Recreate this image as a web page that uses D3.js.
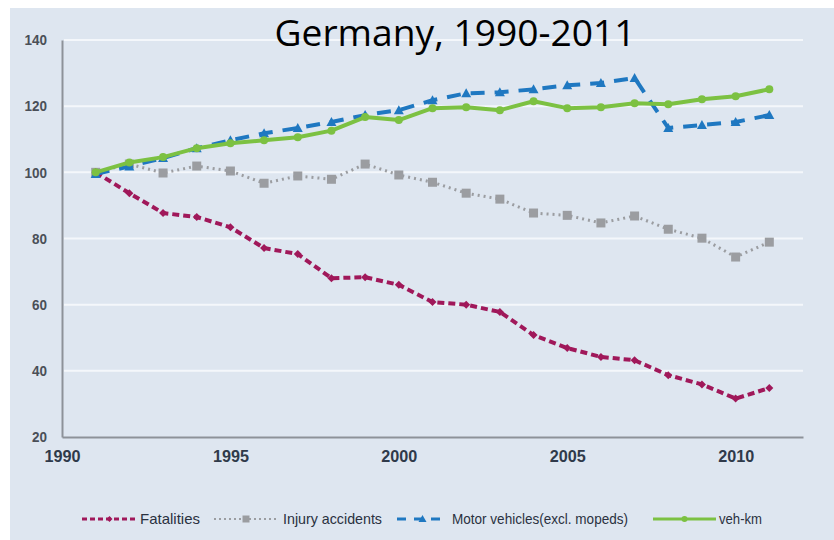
<!DOCTYPE html>
<html><head><meta charset="utf-8">
<script src="https://cdn.jsdelivr.net/npm/d3@7/dist/d3.min.js"></script>
<style>
body{margin:0;background:#fff;}
svg{display:block;}
.tick text{font-family:"Liberation Sans","DejaVu Sans",sans-serif;}
</style></head>
<body>
<svg id="chart" width="834" height="540"></svg>
<script>
const years = d3.range(1991, 2012);
const fatalities = [100, 93.7, 87.7, 86.5, 83.4, 77.1, 75.3, 68, 68.3, 66, 60.8, 60, 57.8, 50.8, 46.9, 44.2, 43.2, 38.7, 35.9, 31.6, 34.8];
const injuryAccidents = [100, 102.5, 99.8, 101.9, 100.4, 96.7, 98.9, 97.9, 102.5, 99.2, 97, 93.7, 91.9, 87.7, 87, 84.7, 86.8, 82.8, 80.1, 74.4, 78.9];
const motorVehicles = [99.5, 101.8, 104.3, 107.3, 109.7, 111.8, 113.4, 115.2, 117.3, 118.8, 121.8, 123.9, 124.2, 125.1, 126.3, 127, 128.5, 113.4, 114.3, 115.2, 117.3];
const vehKm = [100, 103, 104.6, 107.3, 108.8, 109.7, 110.6, 112.6, 116.7, 115.8, 119.4, 119.7, 118.8, 121.5, 119.4, 119.7, 120.9, 120.6, 122.1, 123, 125.1];
const xTicks = [1990, 1995, 2000, 2005, 2010];
const yTicks = [20, 40, 60, 80, 100, 120, 140];
const title = "Germany, 1990-2011";

const series = [
  {name: "Fatalities", values: fatalities, color: "#a0185a", dash: "7,4", width: 4, marker: "diamond"},
  {name: "Injury accidents", values: injuryAccidents, color: "#9b9da1", dash: "2,4", width: 3, marker: "square"},
  {name: "Motor vehicles(excl. mopeds)", values: motorVehicles, color: "#1f78c1", dash: "14,10", width: 4, marker: "triangle"},
  {name: "veh-km", values: vehKm, color: "#7cc142", dash: null, width: 4, marker: "circle"}
];

const svg = d3.select("#chart");
svg.append("rect").attr("x", 10).attr("y", 8).attr("width", 824).attr("height", 532).attr("fill", "#dee6f0");

const x = d3.scaleLinear().domain([1990, 2012]).range([62, 803]);
const y = d3.scaleLinear().domain([20, 140]).range([437, 40]);

// gridlines
svg.append("g").selectAll("line").data(yTicks.filter(v => v > 20)).join("line")
  .attr("x1", 64).attr("x2", 803).attr("y1", d => y(d)).attr("y2", d => y(d))
  .attr("stroke", "#f4f7fb").attr("stroke-width", 2);

// axes
const yAxis = svg.append("g").attr("transform", "translate(62,0)")
  .call(d3.axisLeft(y).tickValues(yTicks).tickSize(0).tickPadding(15));
yAxis.select(".domain").attr("stroke", "#8d9299").attr("stroke-width", 2);
yAxis.selectAll("text").attr("font-size", 15).attr("fill", "#4a4f57").attr("font-weight", "bold")
  .attr("textLength", d => String(d).length * 7.5).attr("lengthAdjust", "spacingAndGlyphs");

const xAxis = svg.append("g").attr("transform", "translate(0,437)")
  .call(d3.axisBottom(x).tickValues(xTicks).tickFormat(d3.format("d")).tickSize(0).tickPadding(14));
xAxis.select(".domain").attr("stroke", "#8d9299").attr("stroke-width", 2);
xAxis.selectAll("text").attr("font-size", 16).attr("fill", "#2f3a4a").attr("font-weight", "bold")
  .attr("textLength", 36).attr("lengthAdjust", "spacingAndGlyphs");

// title
svg.append("text").attr("x", 455).attr("y", 46).attr("text-anchor", "middle")
  .attr("font-family", "'Open Sans', 'Noto Sans', sans-serif").attr("font-size", 36).attr("fill", "#000")
  .attr("textLength", 361).attr("lengthAdjust", "spacingAndGlyphs")
  .text(title);

const line = d3.line().x((d, i) => x(years[i])).y(d => y(d));

function marker(g, type, cx, cy, color, sz) {
  const r = sz || 4;
  if (type === "diamond") g.append("path").attr("d", `M${cx},${cy-r}L${cx+r},${cy}L${cx},${cy+r}L${cx-r},${cy}Z`).attr("fill", color);
  else if (type === "square") g.append("rect").attr("x", cx-r-0.5).attr("y", cy-r-0.5).attr("width", 2*r+1).attr("height", 2*r+1).attr("fill", color);
  else if (type === "triangle") g.append("path").attr("d", `M${cx},${cy-r-1}L${cx+r+1},${cy+r}L${cx-r-1},${cy+r}Z`).attr("fill", color);
  else g.append("circle").attr("cx", cx).attr("cy", cy).attr("r", r).attr("fill", color);
}

const drawOrder = [1, 0, 2, 3];
drawOrder.forEach(k => {
  const s = series[k];
  const g = svg.append("g");
  g.append("path").datum(s.values).attr("d", line).attr("fill", "none")
    .attr("stroke", s.color).attr("stroke-width", s.width)
    .attr("stroke-dasharray", s.dash).attr("stroke-linejoin", "round");
  s.values.forEach((v, i) => marker(g, s.marker, x(years[i]), y(v), s.color));
});

// legend
const legendLine = [[82, 137], [214, 278], [397, 448], [653, 716]];
const legendText = [[140, 60], [283, 99], [452, 176], [719, 43]];
const legendDash = ["5,3", "2,3", "9,8", null];
const leg = svg.append("g");
series.forEach((s, i) => {
  const ly = 519;
  const [x1, x2] = legendLine[i];
  const g = leg.append("g");
  g.append("line").attr("x1", x1).attr("x2", x2).attr("y1", ly).attr("y2", ly)
    .attr("stroke", s.color).attr("stroke-width", s.marker === "square" ? 2 : 3).attr("stroke-dasharray", legendDash[i]);
  marker(g, s.marker, (x1 + x2) / 2, ly, s.color, 3);
  g.append("text").attr("x", legendText[i][0]).attr("y", ly + 5)
    .attr("font-family", "'Liberation Sans','DejaVu Sans',sans-serif")
    .attr("font-size", 15).attr("fill", "#2a3140")
    .attr("textLength", legendText[i][1]).attr("lengthAdjust", "spacingAndGlyphs")
    .text(s.name);
});
</script>
</body></html>
